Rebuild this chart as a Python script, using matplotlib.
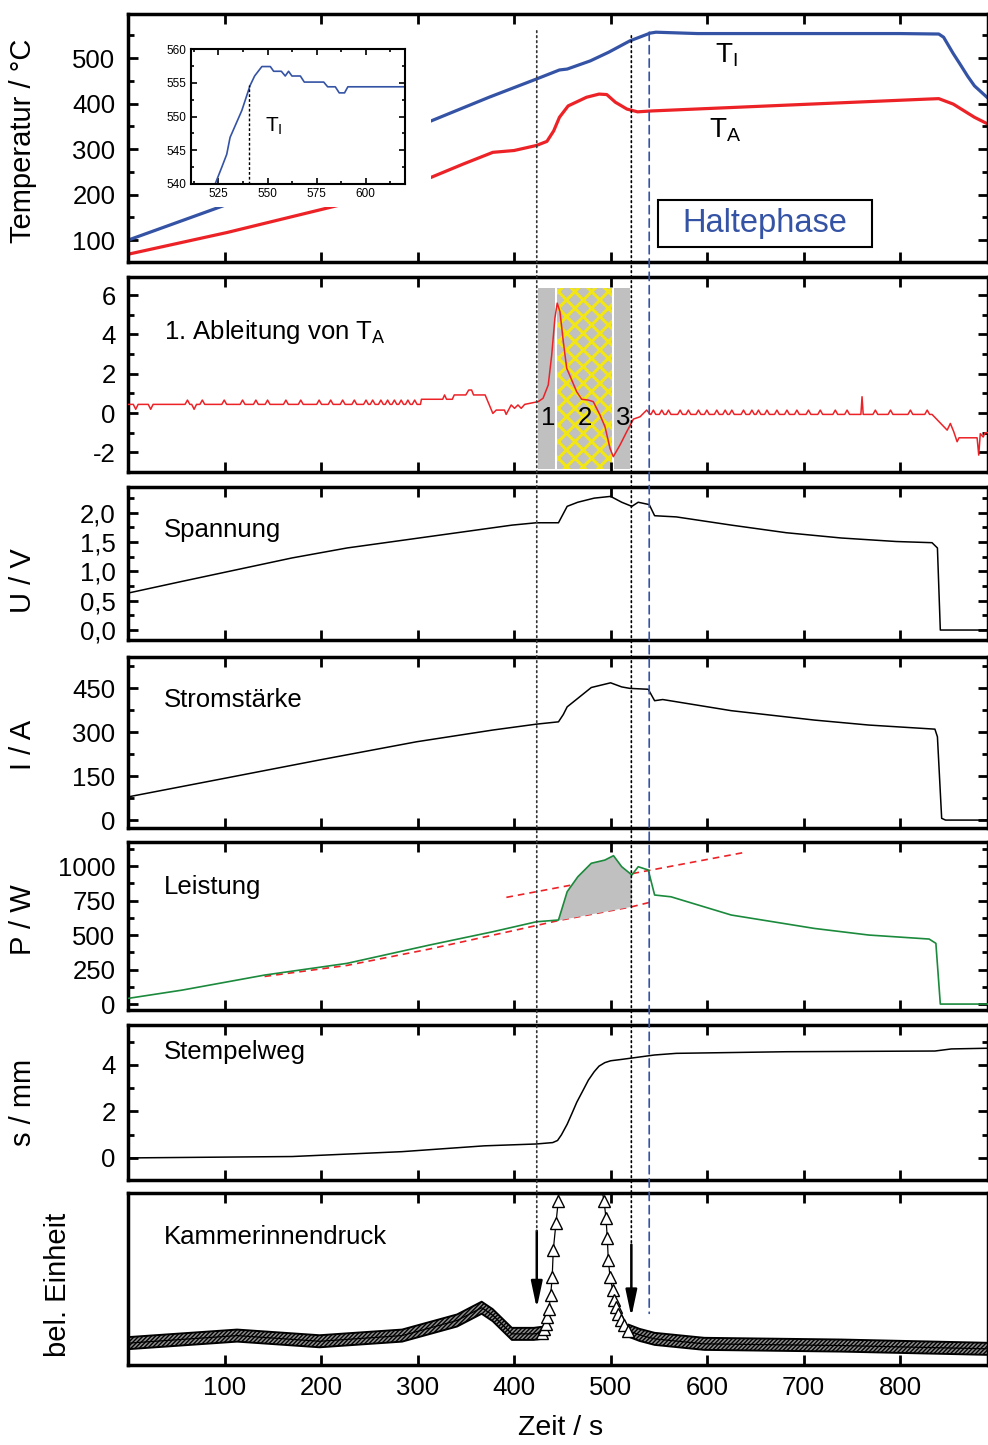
import numpy as np
import matplotlib.pyplot as plt
from matplotlib.patches import Rectangle, ConnectionPatch
from matplotlib.ticker import MultipleLocator, FuncFormatter

plt.rcParams['font.family'] = ['Liberation Sans', 'DejaVu Sans']
plt.rcParams['mathtext.fontset'] = 'custom'
plt.rcParams['mathtext.rm'] = 'Liberation Sans'
plt.rcParams['mathtext.it'] = 'Liberation Sans:italic'
plt.rcParams['hatch.linewidth'] = 1.0
plt.rcParams['axes.unicode_minus'] = False

# ---------------- Daten ----------------
zeit_ticks = [100, 200, 300, 400, 500, 600, 700, 800]

# Temperaturen
ti_t = [0, 98, 314, 374, 423, 447, 455, 479, 498, 520, 541, 547, 590, 700, 800, 840, 845, 855, 862, 870, 877, 891]
ti_v = [100, 175, 362, 414, 454, 474, 476, 494, 513, 538, 555, 557, 554, 554, 554, 553, 546, 510, 487, 460, 439, 412]
ta_t = [0, 103, 217, 314, 347, 378, 400, 423, 434, 441, 447, 456, 475, 488, 496, 505, 517, 528, 543, 828, 840, 855, 877, 891]
ta_v = [69, 117, 176, 238, 267, 293, 297, 308, 317, 340, 370, 395, 414, 421, 420, 403, 388, 382, 384, 410, 411, 399, 370, 355]

# Ausschnitt T_I
ins_t = [523.3, 526.7, 529.2, 530.9, 536.9, 541.1, 543.4, 547.1, 551.4, 553.1, 557.0, 559.0, 560.7,
         562.4, 566.7, 568.7, 578.6, 580.6, 584.5, 586.5, 589.2, 590.9, 620]
ins_v = [540, 542.5, 544.4, 546.9, 550.9, 554.6, 556.0, 557.4, 557.4, 556.7, 556.7, 556.0, 556.7,
         556.0, 556.0, 555.1, 555.1, 554.4, 554.4, 553.5, 553.5, 554.4, 554.4]

# 1. Ableitung von T_A
abl_base_a, abl_peak_a, abl_dip_a = 0.44, 0.66, 0.19
abl_bumps_a = [61.6, 77, 99.7, 118.7, 132.5, 144.6, 163.6, 179, 198, 210, 222.4, 234.5, 246.6,
               253.5, 262, 269, 276, 283, 290, 297]
abl_dips_a = [8, 23.5, 68.5]
abl_mid_t = [303, 304, 326, 328, 330, 336, 338, 350, 353, 356, 358, 370, 378, 381.5, 390, 391.8, 397,
             400.5, 404, 407.4, 411, 425, 430, 435.4, 439, 442.3, 444.7, 447.5, 451, 454.5, 464.8, 470,
             476.9, 482, 489, 494.2, 499.4, 502.8, 509.7, 516.7, 523.6, 530.5, 537.4, 541]
abl_mid_v = [0.44, 0.70, 0.70, 0.92, 0.70, 0.70, 0.92, 0.92, 1.17, 1.17, 0.92, 0.92, -0.02, 0.15, 0.15,
             -0.07, 0.41, 0.24, 0.41, 0.24, 0.44, 0.58, 0.75, 1.43, 2.96, 4.83, 5.59, 5.16, 3.63, 2.28,
             1.09, 0.70, 0.66, 0.58, -0.10, -0.70, -1.80, -2.22, -1.63, -0.95, -0.31, -0.19, 0.15, -0.07]
abl_base_b, abl_peak_b = -0.07, 0.15
abl_bumps_b = [544.3, 553, 560, 572, 580.6, 591, 599.7, 610, 618.7, 625.6, 637.7, 646.4, 653.2, 662,
               672.3, 682.7, 693, 705, 717.2, 732.8, 745, 774.3, 790, 810.6, 828]
abl_spike = (760.5, 0.83)
abl_end_t = [833, 843.5, 848.7, 852, 855.5, 859, 861, 879.7, 881.4, 883, 886, 888, 891]
abl_end_v = [-0.07, -0.61, -0.87, -0.53, -0.95, -1.46, -1.26, -1.26, -2.14, -1.05, -1.22, -1.0, -1.0]
zonen = [(425, 442), (444.5, 501.5), (503.5, 520)]
zonen_y = [-2.85, 6.35]
zonen_namen = ['1', '2', '3']
zonen_text_t = [435, 473.4, 513]

# Spannung
u_t = [0, 56, 113, 170, 227, 284, 341, 398, 423, 446, 455, 466, 483, 500, 511.5, 522, 528.6, 540,
       545.6, 568, 625, 682, 739, 796, 833, 838.6, 841.6, 891]
u_v = [0.63, 0.83, 1.03, 1.23, 1.40, 1.53, 1.66, 1.79, 1.83, 1.83, 2.11, 2.18, 2.25, 2.28, 2.18, 2.11,
       2.18, 2.14, 1.95, 1.93, 1.79, 1.66, 1.57, 1.51, 1.49, 1.40, 0.0, 0.0]

# Stromstaerke
i_t = [0, 99.5, 198.5, 299, 378, 423, 446, 451, 455, 466, 480, 500, 511.5, 520, 539, 545.6, 554, 625, 711,
       767.5, 836, 838.6, 843, 847, 891]
i_v = [79, 142, 205, 267, 307, 327, 335, 360, 386, 415, 452, 468, 454, 449, 446, 407, 411, 373, 341, 324,
       310, 284, 6, 0, 0]

# Leistung
p_t = [0, 56, 141.5, 227, 312, 378, 423, 446, 455, 466, 480, 494, 503, 511.5, 522, 528.6, 539, 545.6,
       562.6, 625, 711, 767.5, 830, 837, 841.6, 891]
p_v = [41, 101, 210, 295, 427, 524, 596, 609, 814, 922, 1020, 1043, 1075, 995, 935, 995, 971, 790,
       777, 645, 548, 500, 471, 440, 0, 0]
p_unten_t = [141.5, 227, 312, 398, 446, 522, 543]
p_unten_v = [200, 280, 398, 530, 605, 705, 741]
p_oben_t = [392, 639]
p_oben_v = [773, 1099]

# Stempelweg
s_t = [0, 170, 284, 369, 423, 440, 445, 449, 455, 460, 465, 471.6, 477, 483, 488, 494, 500, 511.5,
       545.6, 568, 682, 836, 853, 891]
s_v = [0.0, 0.06, 0.27, 0.52, 0.60, 0.66, 0.75, 0.99, 1.45, 1.92, 2.40, 2.92, 3.35, 3.71, 3.95, 4.10,
       4.18, 4.24, 4.43, 4.50, 4.57, 4.60, 4.69, 4.72]

# Kammerinnendruck (bel. Einheit)
d_a_t = [0, 113, 198.5, 284, 341, 366.4, 377.8, 397.7, 420.5, 428.5]
d_a_v = [0.127, 0.171, 0.138, 0.171, 0.259, 0.333, 0.29, 0.181, 0.181, 0.187]
d_auf_t = [428.5, 430.9, 433, 434.4, 436.1, 437.9, 439.5, 440.6, 443.4, 445.8]
d_auf_v = [0.187, 0.21, 0.24, 0.279, 0.327, 0.405, 0.513, 0.668, 0.825, 0.955]
d_oben_t = [446, 492]
d_oben_v = [0.99, 0.99]
d_ab_t = [493.2, 495.2, 496.6, 497.6, 499.4, 502.2, 503.8, 505.6, 508, 510.5, 513.9, 518.4]
d_ab_v = [0.955, 0.854, 0.737, 0.61, 0.513, 0.435, 0.376, 0.337, 0.298, 0.259, 0.23, 0.2]
d_b_t = [518.4, 530, 545.6, 597, 739, 891]
d_b_v = [0.2, 0.175, 0.152, 0.123, 0.113, 0.094]

# Markierungen
t_start, t_ende, t_halte = 423.5, 521.5, 540

blau = '#3553a5'
rot = '#ec2227'
gruen = '#1b8a3c'
grau = '#c0c0c0'
gelb = '#f2e614'

# ---------------- Figur ----------------
fig = plt.figure(figsize=(9.88, 14.45), dpi=100)
W, H = 988, 1445


def rect(top, bottom, left=128, right=988):
    return [left / W, 1 - bottom / H, (right - left) / W, (bottom - top) / H]


def stil(ax, ylim, major, minor):
    ax.set_xlim(0, 891)
    ax.set_ylim(*ylim)
    ax.set_xticks(zeit_ticks)
    ax.yaxis.set_major_locator(MultipleLocator(major))
    if minor:
        ax.yaxis.set_minor_locator(MultipleLocator(minor))
    ax.tick_params(which='both', direction='in', top=True, right=True, width=2, labelsize=18.5)
    ax.tick_params(which='major', length=7)
    ax.tick_params(which='minor', length=4)
    ax.tick_params(axis='y', pad=9)
    ax.tick_params(axis='x', labelbottom=False)
    for sp in ax.spines.values():
        sp.set_linewidth(2.5)


def titel(ax, text, y):
    ax.text(0.042, y, text, transform=ax.transAxes, fontsize=18.5, va='center', ha='left')


# 1) Temperatur
ax1 = fig.add_axes(rect(14, 262))
stil(ax1, (52, 597), 100, 50)
ax1.plot(ti_t, ti_v, color=blau, lw=2.3)
ax1.plot(ta_t, ta_v, color=rot, lw=2.3)
ax1.set_ylabel('Temperatur / °C', fontsize=21)
ax1.yaxis.set_label_coords(-0.106, 0.49)
ax1.text(620, 507, r'$\mathrm{T}_\mathrm{I}$', fontsize=20, ha='center', va='center')
ax1.text(619, 342, r'$\mathrm{T}_\mathrm{A}$', fontsize=20, ha='center', va='center')
ax1.add_patch(Rectangle((150 / W, 1 - 207 / H), 281 / W, 180 / H, transform=fig.transFigure,
                        facecolor='white', edgecolor='none', zorder=4, clip_on=False))
ax1.add_patch(Rectangle((0.616, 0.06), 0.249, 0.19, transform=ax1.transAxes,
                        facecolor='white', edgecolor='black', lw=1.5, zorder=5))
ax1.text(0.7405, 0.155, 'Haltephase', transform=ax1.transAxes, fontsize=23.5, color=blau,
         ha='center', va='center', zorder=6)

# 2) Ableitung
ax2 = fig.add_axes(rect(277, 472))
stil(ax2, (-3.0, 6.92), 2, 1)
for (a, b), name, xt in zip(zonen, zonen_namen, zonen_text_t):
    if name == '2':
        zone = ax2.fill_between([a, b], zonen_y[0], zonen_y[1], facecolor=grau, edgecolor=gelb,
                                hatch='xx', linewidth=0)
        if hasattr(zone, 'set_hatch_linewidth'):
            zone.set_hatch_linewidth(2.2)
    else:
        ax2.fill_between([a, b], zonen_y[0], zonen_y[1], facecolor=grau, linewidth=0)
    ax2.text(xt, -0.25, name, fontsize=18.5, ha='center', va='center', zorder=6)

ereignisse = sorted([(c, abl_peak_a) for c in abl_bumps_a] + [(c, abl_dip_a) for c in abl_dips_a])
abl_t, abl_v = [0], [abl_base_a]
for c, v in ereignisse:
    abl_t += [c - 2.5, c, c + 2.5]
    abl_v += [abl_base_a, v, abl_base_a]
abl_t += abl_mid_t
abl_v += abl_mid_v
ereignisse_b = sorted([(c, abl_peak_b, 2.5) for c in abl_bumps_b] + [(abl_spike[0], abl_spike[1], 1.2)])
for c, v, hw in ereignisse_b:
    abl_t += [c - hw, c, c + hw]
    abl_v += [abl_base_b, v, abl_base_b]
abl_t += abl_end_t
abl_v += abl_end_v
ax2.plot(abl_t, abl_v, color=rot, lw=1.1, zorder=5)
titel(ax2, r'1. Ableitung von $\mathrm{T}_\mathrm{A}$', 0.718)

# 3) Spannung
ax3 = fig.add_axes(rect(487, 640))
stil(ax3, (-0.17, 2.44), 0.5, 0.25)
ax3.yaxis.set_major_formatter(FuncFormatter(lambda v, p: f'{v:.1f}'.replace('.', ',')))
ax3.plot(u_t, u_v, color='black', lw=1.1)
ax3.set_ylabel('U / V', fontsize=21)
ax3.yaxis.set_label_coords(-0.106, 0.39)
titel(ax3, 'Spannung', 0.719)

# 4) Stromstaerke
ax4 = fig.add_axes(rect(657, 828))
stil(ax4, (-27, 556), 150, 75)
ax4.plot(i_t, i_v, color='black', lw=1.1)
ax4.set_ylabel('I / A', fontsize=21)
ax4.yaxis.set_label_coords(-0.106, 0.485)
titel(ax4, 'Stromstärke', 0.749)

# 5) Leistung
ax5 = fig.add_axes(rect(842, 1010))
stil(ax5, (-43, 1174), 250, 125)
ax5.plot(p_oben_t, p_oben_v, color=rot, lw=1.2, ls=(0, (4, 3)))
ax5.plot(p_unten_t, p_unten_v, color=rot, lw=1.2, ls=(0, (4, 3)))
pt, pv = np.array(p_t), np.array(p_v)
ut, uv = np.array(p_unten_t), np.array(p_unten_v)
mg = (pt >= 446) & (pt <= 522)
mu = (ut >= 446) & (ut <= 522)
ax5.fill(np.concatenate([pt[mg], ut[mu][::-1]]), np.concatenate([pv[mg], uv[mu][::-1]]),
         facecolor=grau, edgecolor='none', zorder=3)
ax5.plot(p_t, p_v, color=gruen, lw=1.2, zorder=4)
ax5.set_ylabel('P / W', fontsize=21)
ax5.yaxis.set_label_coords(-0.106, 0.536)
titel(ax5, 'Leistung', 0.732)

# 6) Stempelweg
ax6 = fig.add_axes(rect(1025, 1180))
stil(ax6, (-0.95, 5.72), 2, 1)
ax6.plot(s_t, s_v, color='black', lw=1.1)
ax6.set_ylabel('s / mm', fontsize=21)
ax6.yaxis.set_label_coords(-0.106, 0.5)
titel(ax6, 'Stempelweg', 0.826)

# 7) Kammerinnendruck
ax7 = fig.add_axes(rect(1193, 1365))
stil(ax7, (0, 1), 1, None)
ax7.set_yticks([])
ax7.tick_params(axis='x', labelbottom=True, pad=8)
da_t, da_v = np.array(d_a_t), np.array(d_a_v)
db_t, db_v = np.array(d_b_t), np.array(d_b_v)
for bt, bv in [(da_t, da_v), (db_t, db_v)]:
    ax7.fill_between(bt, bv - 0.035, bv + 0.035, facecolor='#8c8c8c', edgecolor='black',
                     hatch='////////', linewidth=1.4)
ax7.plot(d_a_t + d_auf_t + d_oben_t + d_ab_t + d_b_t, d_a_v + d_auf_v + d_oben_v + d_ab_v + d_b_v,
         color='black', lw=0.9)
for mt, mv in [(d_auf_t, d_auf_v), (d_ab_t, d_ab_v)]:
    ax7.plot(mt, mv, ls='none', marker='^', ms=9, mfc='white', mec='black', mew=1.0, zorder=4)
ax7.set_ylabel('bel. Einheit', fontsize=21)
ax7.yaxis.set_label_coords(-0.065, 0.465)
ax7.set_xlabel('Zeit / s', fontsize=20.5)
ax7.xaxis.set_label_coords(0.503, -0.29)
titel(ax7, 'Kammerinnendruck', 0.744)
pfeil = dict(arrowstyle='-|>,head_length=0.8,head_width=0.17', color='black', lw=1.8,
             mutation_scale=20, shrinkA=0, shrinkB=0)
ax7.annotate('', xy=(t_start, 0.33), xytext=(t_start, 0.78), arrowprops=pfeil)
ax7.annotate('', xy=(t_ende, 0.28), xytext=(t_ende, 0.70), arrowprops=pfeil)

# senkrechte Linien ueber alle Diagramme
for t, y_oben, y_unten, farbe, stil_l in [(t_start, 560, 0.78, '#333333', (0, (1, 2))),
                                          (t_ende, 549, 0.70, 'black', (0, (1, 2))),
                                          (t_halte, 557, 0.30, blau, (0, (5, 3)))]:
    con = ConnectionPatch(xyA=(t, y_oben), coordsA='data', axesA=ax1,
                          xyB=(t, y_unten), coordsB='data', axesB=ax7,
                          color=farbe, lw=1.2, linestyle=stil_l, zorder=5)
    fig.add_artist(con)

# Ausschnitt
axi = fig.add_axes(rect(49, 184, 191, 405))
axi.plot(ins_t, ins_v, color=blau, lw=1.2)
axi.plot([540.5, 540.5], [540, 554.6], color='black', lw=1, ls=(0, (2, 1.5)))
axi.set_xlim(511, 620)
axi.set_ylim(540, 560)
axi.set_xticks([525, 550, 575, 600])
axi.xaxis.set_minor_locator(MultipleLocator(12.5))
axi.yaxis.set_major_locator(MultipleLocator(5))
axi.yaxis.set_minor_locator(MultipleLocator(2.5))
axi.tick_params(which='both', direction='in', top=True, right=True, width=1.2, labelsize=8.5, pad=3)
axi.tick_params(which='major', length=4)
axi.tick_params(which='minor', length=2.5)
for sp in axi.spines.values():
    sp.set_linewidth(1.5)
axi.text(553, 548.5, r'$\mathrm{T}_\mathrm{I}$', fontsize=15, ha='center', va='center')

fig.savefig('out.png', dpi=100)
